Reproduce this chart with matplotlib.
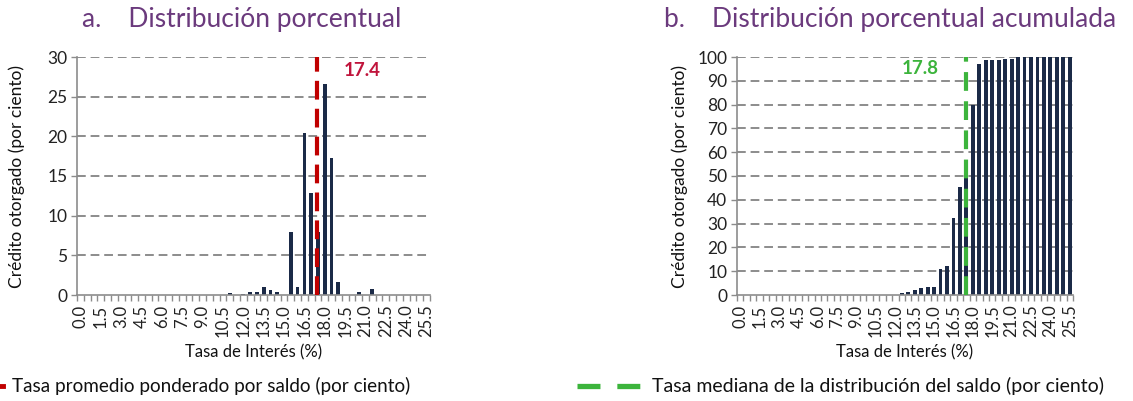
import numpy as np
import matplotlib
matplotlib.use("Agg")
import matplotlib.pyplot as plt
from matplotlib.lines import Line2D

plt.rcParams['font.family'] = ['Lato', 'DejaVu Sans']

# categorias de tasa (0.0 a 25.5, paso 0.5)
tasas = [i * 0.5 for i in range(52)]
etiquetas_x = ['%.1f' % t for t in tasas]

# a. distribucion porcentual (por ciento)
distribucion = [0, 0, 0, 0, 0, 0, 0, 0, 0, 0,
                0, 0, 0, 0, 0, 0, 0, 0, 0, 0,
                0, 0, 0.2, 0, 0.1, 0.4, 0.4, 1.0, 0.6, 0.35,
                0, 7.9, 1.0, 20.4, 12.8, 8.0, 26.6, 17.3, 1.6, 0,
                0, 0.4, 0, 0.75, 0, 0, 0, 0, 0, 0,
                0, 0]

# b. distribucion porcentual acumulada (por ciento)
acumulada = [0, 0, 0, 0, 0, 0, 0, 0, 0, 0,
             0, 0, 0, 0, 0, 0, 0, 0, 0, 0,
             0, 0, 0.1, 0.1, 0.2, 0.7, 1.2, 2.2, 2.8, 3.2,
             3.3, 11.0, 12.1, 32.4, 45.2, 53.3, 79.8, 97.1, 98.7, 98.8,
             98.8, 99.2, 99.2, 100, 100, 99.8, 100, 99.9, 100, 99.8,
             100, 99.9]

tasa_promedio = 17.4
tasa_mediana = 17.8
paso = 0.5

W, H = 1133, 401
fig = plt.figure(figsize=(W / 100, H / 100), dpi=100)

navy = '#1B2A47'
gris = '#8C8C8C'
morado = '#6B3A7D'
rojo = '#C00000'
verde = '#3CB43C'


def base_axes(rect, valores, ymax, ystep, ancho):
    ax = fig.add_axes(rect)
    x = np.arange(len(valores))
    ax.bar(x, valores, width=ancho, color=navy, zorder=3)
    ax.set_xlim(-0.5, len(valores) - 0.5)
    ax.set_ylim(0, ymax)
    ax.set_yticks(np.arange(0, ymax + 1, ystep))
    ax.set_xticks(x[::3])
    ax.set_xticklabels(etiquetas_x[::3], rotation=90, fontsize=12, color='#222222')
    ax.set_xticks(np.arange(len(valores) + 1) - 0.5, minor=True)
    ax.tick_params(axis='x', which='major', length=0, pad=7)
    ax.tick_params(axis='x', which='minor', length=4, color=gris, width=1)
    ax.tick_params(axis='y', length=4, color=gris, width=1, labelsize=12.5,
                   labelcolor='#222222', pad=3)
    for yv in np.arange(ystep, ymax + 1, ystep):
        ax.axhline(yv, color=gris, lw=1.4, dashes=(4.5, 2.5), zorder=1)
    for s in ['top', 'right']:
        ax.spines[s].set_visible(False)
    for s in ['left', 'bottom']:
        ax.spines[s].set_color(gris)
        ax.spines[s].set_linewidth(1.2)
        ax.spines[s].set_zorder(4)
    ax.set_xlabel('Tasa de Interés (%)', fontsize=12, color='#111111', labelpad=5)
    ax.set_ylabel('Crédito otorgado (por ciento)', fontsize=12.5, color='#111111')
    ax.yaxis.set_label_coords(-0.147, 0.5)
    return ax


ax1 = base_axes([77 / W, 1 - 295 / H, 353 / W, 238 / H], distribucion, 30, 5, 0.55)
ax2 = base_axes([737 / W, 1 - 295 / H, 336 / W, 238 / H], acumulada, 100, 10, 0.6)

# linea de tasa promedio
xp = tasa_promedio / paso
ax1.plot([xp, xp], [0, 30], color=rojo, lw=3, dashes=(4.5, 2.2), zorder=5,
         dash_capstyle='butt')
ax1.annotate('%.1f' % tasa_promedio, xy=(xp, 30), xytext=(27, -13),
             textcoords='offset pixels', ha='left', va='center',
             fontsize=13.5, fontweight='bold', color='#C0143C')

# linea de tasa mediana (en la categoria que la contiene)
xm = np.floor(tasa_mediana / paso)
ax2.plot([xm, xm], [0, 100], color=verde, lw=3, dashes=(4.5, 2.5), zorder=5,
         dash_capstyle='butt')
ax2.annotate('%.1f' % tasa_mediana, xy=(xm, 100), xytext=(-28, -11),
             textcoords='offset pixels', ha='right', va='center',
             fontsize=13.5, fontweight='bold', color=verde)

# titulos
fig.text(242 / W, 1 - 19 / H, 'a.    Distribución porcentual', ha='center', va='center',
         fontsize=19, color=morado)
fig.text(890 / W, 1 - 19 / H, 'b.    Distribución porcentual acumulada', ha='center',
         va='center', fontsize=19, color=morado)

# leyendas
yl = 1 - 386 / H
fig.add_artist(Line2D([-8 / W, 3 / W], [yl, yl], transform=fig.transFigure,
                      color=rojo, lw=3.5))
fig.text(12 / W, yl, 'Tasa promedio ponderado por saldo (por ciento)', ha='left',
         va='center', fontsize=13.6, color='#111111')
fig.add_artist(Line2D([577 / W, 640 / W], [yl, yl], transform=fig.transFigure,
                      color=verde, lw=3.8, dashes=(4.35, 3.2)))
fig.text(652 / W, yl, 'Tasa mediana de la distribución del saldo (por ciento)',
         ha='left', va='center', fontsize=14, color='#111111')

fig.savefig('out.png', dpi=100)
